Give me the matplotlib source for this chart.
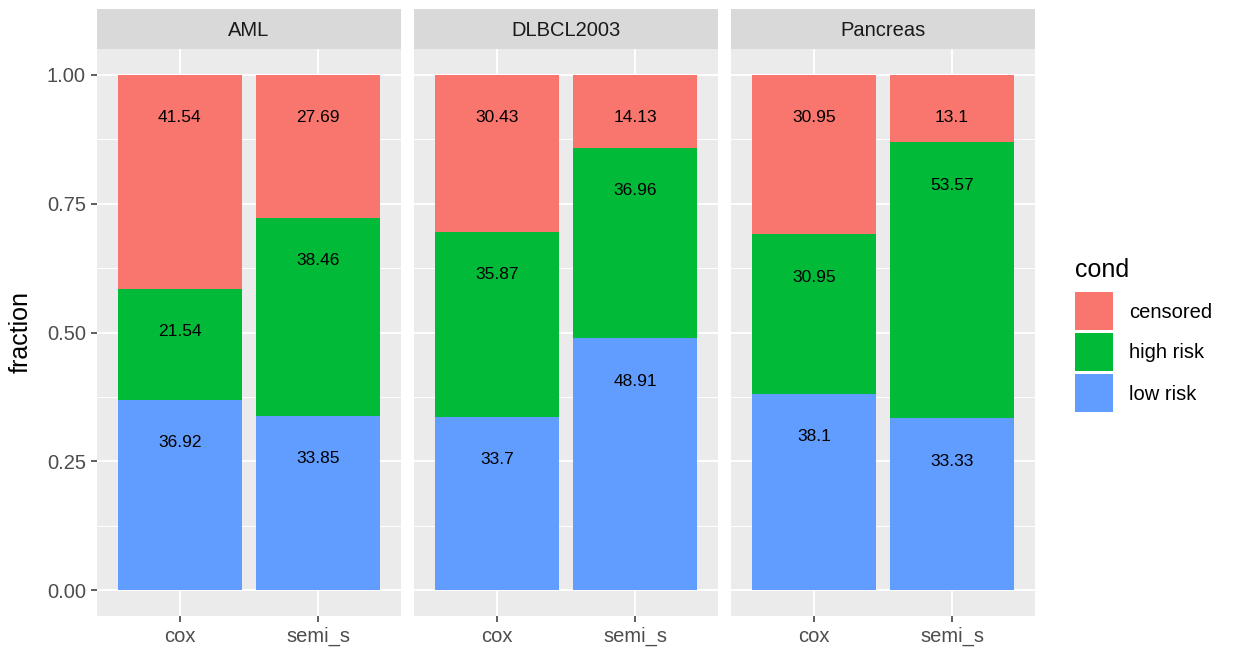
import matplotlib
matplotlib.use("Agg")
import matplotlib.pyplot as plt
from matplotlib.patches import Rectangle

plt.rcParams["font.family"] = ["Liberation Sans", "DejaVu Sans"]

# data (percent values, stacked bottom -> top: low risk, high risk, censored)
datasets = ["AML", "DLBCL2003", "Pancreas"]
methods = ["cox", "semi_s"]
conds = ["censored", "high risk", "low risk"]
low_risk = [[36.92, 33.85], [33.7, 48.91], [38.1, 33.33]]
high_risk = [[21.54, 38.46], [35.87, 36.96], [30.95, 53.57]]
censored = [[41.54, 27.69], [30.43, 14.13], [30.95, 13.1]]
yticks = [0.0, 0.25, 0.5, 0.75, 1.0]
ytick_labels = ["0.00", "0.25", "0.50", "0.75", "1.00"]

colors = {"censored": "#F8766D", "high risk": "#00BA38", "low risk": "#619CFF"}

W, H = 1235, 656
fig = plt.figure(figsize=(W / 100, H / 100), dpi=100)


def fx(x):
    return x / W


def fy(y):
    return 1 - y / H


panel_left = [97, 414, 731]
panel_w = 304
panel_top, panel_bot = 49, 616
strip_top = 9

for i, name in enumerate(datasets):
    ax = fig.add_axes([fx(panel_left[i]), fy(panel_bot), panel_w / W, (panel_bot - panel_top) / H])
    ax.set_facecolor("#EBEBEB")
    for s in ax.spines.values():
        s.set_visible(False)
    ax.set_xlim(0.4, 2.6)
    ax.set_ylim(-0.05, 1.05)
    ax.set_axisbelow(True)

    xs = [1, 2]
    lo = [v / 100 for v in low_risk[i]]
    hi = [v / 100 for v in high_risk[i]]
    ce = [v / 100 for v in censored[i]]
    ax.bar(xs, lo, width=0.9, color=colors["low risk"], zorder=2)
    ax.bar(xs, hi, width=0.9, bottom=lo, color=colors["high risk"], zorder=2)
    b2 = [a + b for a, b in zip(lo, hi)]
    ax.bar(xs, ce, width=0.9, bottom=b2, color=colors["censored"], zorder=2)

    # labels just below the top of each segment
    for j in range(2):
        tops = [lo[j], b2[j], b2[j] + ce[j]]
        vals = [low_risk[i][j], high_risk[i][j], censored[i][j]]
        for t, v in zip(tops, vals):
            ax.annotate(f"{v:g}", (xs[j], t), xytext=(0, -43), textcoords="offset pixels",
                        ha="center", va="center", fontsize=12.5, color="#000000", zorder=3)

    # grid
    ax.set_yticks(yticks)
    ax.set_yticks([0.125, 0.375, 0.625, 0.875], minor=True)
    ax.set_xticks(xs)
    ax.set_xticklabels(methods)
    ax.grid(True, which="major", color="white", linewidth=1.4)
    ax.grid(True, which="minor", axis="y", color="white", linewidth=0.7)
    ax.tick_params(axis="x", which="major", length=4, width=1.1, color="#333333",
                   labelsize=14.5, labelcolor="#4D4D4D", pad=4)
    ax.tick_params(axis="y", which="minor", length=0)
    if i == 0:
        ax.set_yticklabels(ytick_labels)
        ax.tick_params(axis="y", which="major", length=4, width=1.1, color="#333333",
                       labelsize=14.5, labelcolor="#4D4D4D", pad=4)
        ax.set_ylabel("fraction", fontsize=18, color="#000000", labelpad=10)
    else:
        ax.tick_params(axis="y", which="major", length=0, labelleft=False)

    # facet strip
    fig.add_artist(Rectangle((fx(panel_left[i]), fy(panel_top)), panel_w / W, (panel_top - strip_top) / H,
                             transform=fig.transFigure, facecolor="#D9D9D9", edgecolor="none"))
    fig.text(fx(panel_left[i] + panel_w / 2), fy(31), name,
             ha="center", va="center", fontsize=14.5, color="#1A1A1A")

# legend
fig.text(fx(1075), fy(270), "cond", ha="left", va="center", fontsize=18, color="#000000")
key_tops = [292, 333, 374]
for k, c in enumerate(conds):
    fig.add_artist(Rectangle((fx(1075), fy(key_tops[k] + 38)), 38 / W, 38 / H,
                             transform=fig.transFigure, facecolor=colors[c], edgecolor="none"))
    fig.text(fx(1129), fy(key_tops[k] + 20), c, ha="left", va="center", fontsize=14.5, color="#000000")

fig.savefig("out.png", dpi=100, facecolor="white")
